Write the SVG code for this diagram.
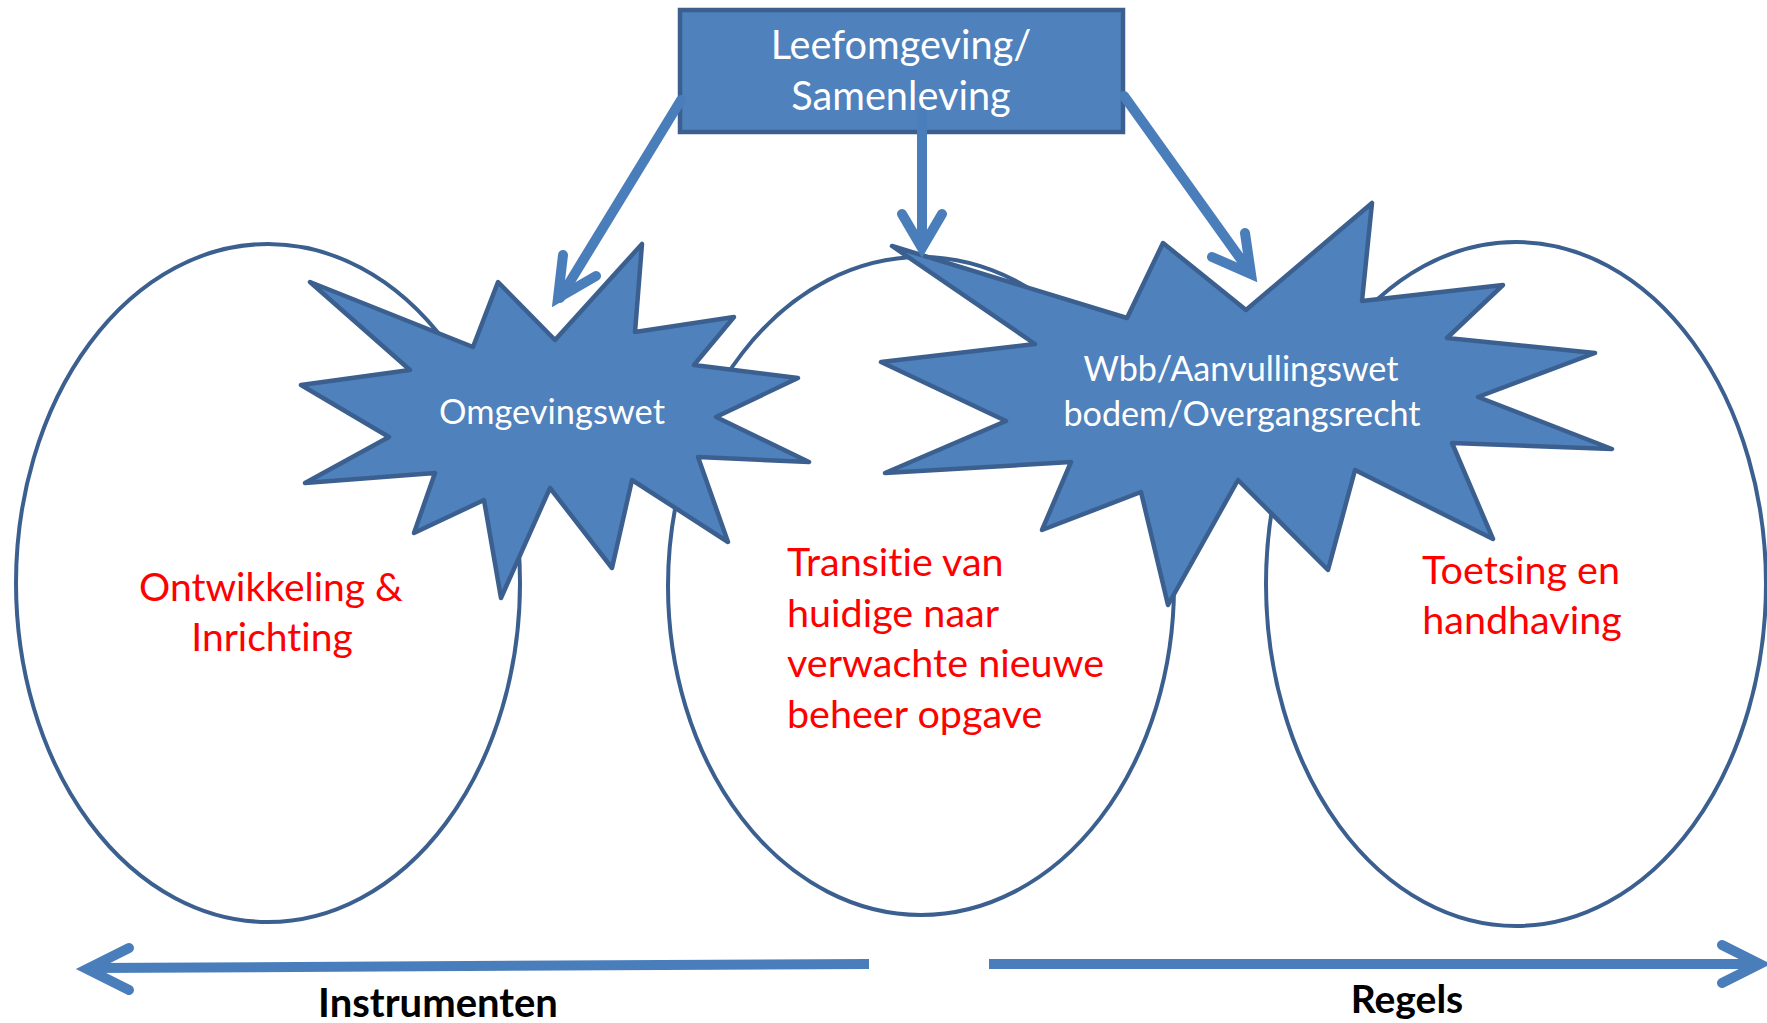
<svg xmlns="http://www.w3.org/2000/svg" width="1767" height="1023" viewBox="0 0 1767 1023">
<style>
text{font-variant-ligatures:none}
.ell{fill:#ffffff;stroke:#3b6090;stroke-width:4}
.star{fill:#4f81bd;stroke:#3b6090;stroke-width:4.5;stroke-linejoin:round}
.box{fill:#4f81bd;stroke:#3b6090;stroke-width:4.5}
.wt{font-family:Lato,"Open Sans",sans-serif;fill:#ffffff;text-anchor:middle}
.rt{font-family:Lato,"Open Sans",sans-serif;fill:#ff0000}
.bt{font-family:Lato,"Open Sans",sans-serif;font-weight:bold;fill:#000000;text-anchor:middle}
.arr{fill:none;stroke:#4a7ebb;stroke-width:10;stroke-linecap:round;stroke-linejoin:miter}
.axis{fill:none;stroke:#4a7ebb;stroke-width:10;stroke-linejoin:miter}
</style>
<rect width="1767" height="1023" fill="#ffffff"/>
<g id="ellipse-left">
<ellipse class="ell" cx="268" cy="583" rx="252" ry="339"/>
<text class="rt" x="271" y="601" font-size="39" text-anchor="middle">Ontwikkeling &amp;</text>
<text class="rt" x="272" y="651" font-size="39" text-anchor="middle">Inrichting</text>
</g>
<g id="ellipse-middle">
<ellipse class="ell" cx="921" cy="586" rx="253" ry="329"/>
<text class="rt" x="787" y="576" font-size="39.5">Transitie van</text>
<text class="rt" x="787" y="627" font-size="39.5">huidige naar</text>
<text class="rt" x="787" y="677" font-size="39.5">verwachte nieuwe</text>
<text class="rt" x="787" y="728" font-size="39.5">beheer opgave</text>
</g>
<g id="ellipse-right">
<ellipse class="ell" cx="1516" cy="584" rx="250" ry="342"/>
<text class="rt" x="1521" y="584" font-size="39.5" text-anchor="middle">Toetsing en</text>
<text class="rt" x="1522" y="634" font-size="39.5" text-anchor="middle">handhaving</text>
</g>
<g id="star-omgevingswet">
<polygon class="star" points="310,282 473,347 498,282 555,340 642,244 635,332 734,317 694,365 798,378 716,417 809,462 698,457 728,542 632,480 612,568 550,488 501,598 484,500 414,533 435,473 305,483 389,437 301,385 410,370"/>
<text class="wt" x="552" y="424" font-size="34.4">Omgevingswet</text>
</g>
<g id="star-wbb">
<polygon class="star" points="892,246 1127,318 1163,243 1246,310 1372,203 1362,301 1503,285 1447,338 1595,353 1478,397 1612,449 1452,443 1493,539 1355,470 1328,570 1238,480 1168,605 1141,492 1042,530 1071,462 885,473 1006,421 881,362 1035,344"/>
<text class="wt" x="1241" y="381" font-size="34.2">Wbb/Aanvullingswet</text>
<text class="wt" x="1242" y="426" font-size="34.2">bodem/Overgangsrecht</text>
</g>
<g id="box-leefomgeving">
<rect class="box" x="680" y="10" width="443" height="122"/>
<text class="wt" x="901" y="59" font-size="39.7">Leefomgeving/</text>
<text class="wt" x="901" y="110" font-size="39.7">Samenleving</text>
</g>
<g id="connectors">
<line class="arr" x1="681" y1="100" x2="560" y2="298"/>
<polyline class="arr" points="563,255 558,298 596,276"/>
<line class="arr" x1="922" y1="113" x2="922" y2="246"/>
<polyline class="arr" points="902,214 922,248 942,214"/>
<line class="arr" x1="1124" y1="96" x2="1250" y2="272"/>
<polyline class="arr" points="1245,233 1251,274 1212,257"/>
<line class="axis" x1="869" y1="964" x2="90" y2="968"/>
<polyline class="arr" points="129,948 87,969 129,990"/>
<line class="axis" x1="989" y1="964" x2="1755" y2="964"/>
<polyline class="arr" points="1722,945 1760,964 1722,983"/>
</g>
<g id="labels">
<text class="bt" x="438" y="1017" font-size="40">Instrumenten</text>
<text class="bt" x="1407" y="1013" font-size="39">Regels</text>
</g>
</svg>
